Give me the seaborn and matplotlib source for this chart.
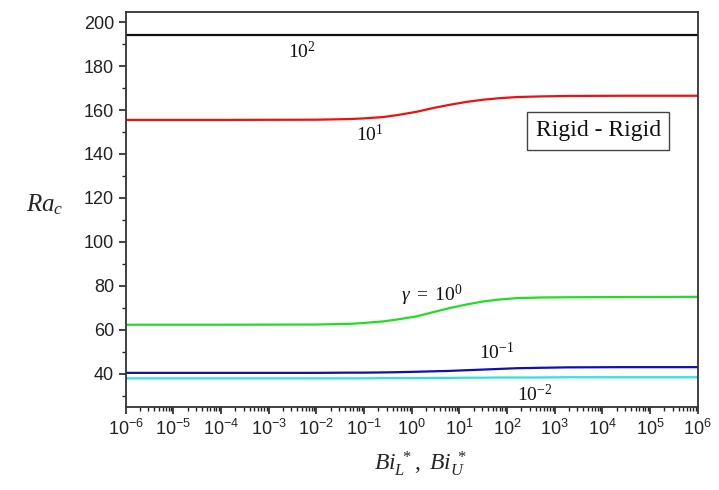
import numpy as np
import pandas as pd
import matplotlib
matplotlib.use("Agg")
import matplotlib.pyplot as plt
import seaborn as sns
from matplotlib.ticker import MultipleLocator, AutoMinorLocator, LogLocator, NullFormatter

# x values (Bi_L* = Bi_U*) shared by every curve
bi = [1e-6, 1e-4, 1e-2, 0.05, 0.1, 0.25, 0.5, 1.26, 2.8, 6.3, 14.1, 31.6, 70.8, 158, 501, 1780, 3.16e4, 1e6]

# Ra_c for each gamma
ra_g100 = [194.0] * 18
ra_g10 = [155.5, 155.5, 155.6, 155.9, 156.2, 156.8, 157.7, 159.2, 160.9, 162.4, 163.7, 164.7, 165.4, 165.9, 166.2, 166.4, 166.5, 166.5]
ra_g1 = [62.3, 62.3, 62.4, 62.7, 63.1, 63.8, 64.7, 66.1, 68.0, 69.9, 71.5, 72.9, 73.8, 74.4, 74.7, 74.8, 74.9, 75.0]
ra_g01 = [40.4, 40.4, 40.4, 40.5, 40.5, 40.6, 40.7, 40.9, 41.1, 41.3, 41.6, 41.9, 42.2, 42.5, 42.7, 42.9, 43.0, 43.0]
ra_g001 = [37.9, 37.9, 37.9, 37.9, 37.9, 38.0, 38.0, 38.0, 38.1, 38.1, 38.2, 38.2, 38.3, 38.3, 38.3, 38.4, 38.4, 38.4]

gammas = ["1e2", "1e1", "1e0", "1e-1", "1e-2"]
colors = ["#111111", "#ee1111", "#22dd22", "#1010b0", "#30e0e0"]

df = pd.concat([
    pd.DataFrame({"Bi": bi, "Ra": ra, "gamma": g})
    for g, ra in zip(gammas, [ra_g100, ra_g10, ra_g1, ra_g01, ra_g001])
])

sns.set_style("ticks")
plt.rcParams['font.family'] = ['Liberation Sans', 'DejaVu Sans']
plt.rcParams['mathtext.fontset'] = 'custom'
plt.rcParams['mathtext.rm'] = 'Liberation Serif'
plt.rcParams['mathtext.it'] = 'Liberation Serif:italic'
plt.rcParams['mathtext.bf'] = 'Liberation Serif:bold'

fig = plt.figure(figsize=(7.19, 4.9), dpi=100)
ax = fig.add_axes([0.1748, 0.170, 0.7956, 0.805])

sns.lineplot(data=df, x="Bi", y="Ra", hue="gamma", palette=colors, hue_order=gammas,
             linewidth=1.6, legend=False, ax=ax)

ax.set_xscale("log")
ax.set_xlim(1e-6, 1e6)
ax.set_ylim(25, 204.5)
ax.xaxis.set_major_locator(LogLocator(base=10, numticks=20))
ax.xaxis.set_minor_locator(LogLocator(base=10, subs=np.arange(2, 10), numticks=200))
ax.xaxis.set_minor_formatter(NullFormatter())
ax.yaxis.set_major_locator(MultipleLocator(20))
ax.yaxis.set_minor_locator(AutoMinorLocator(2))

ax.tick_params(which='major', direction='out', length=5, width=1.2, labelsize=13, colors='#222222')
ax.tick_params(which='minor', direction='out', length=3, width=1.0, colors='#222222')
ax.tick_params(top=False, right=False)
for s in ax.spines.values():
    s.set_visible(True)
    s.set_linewidth(1.3)
    s.set_color('#333333')

ax.set_ylabel(r'$Ra_c$', fontsize=18, rotation=0, va='center', ha='center')
ax.yaxis.set_label_coords(-0.141, 0.513)
ax.set_xlabel(r'$Bi_L^{\ *},\ Bi_U^{\ *}$', fontsize=17, va='center')
ax.xaxis.set_label_coords(0.515, -0.145)

# curve labels
lab_kw = dict(fontsize=14, ha='center', va='center', color='#111111')
ax.text(10**-2.30, 186.5, r'$\mathrm{10^{2}}$', **lab_kw)
ax.text(10**-0.88, 148.7, r'$\mathrm{10^{1}}$', **lab_kw)
ax.text(10**0.42, 75.5, r'$\gamma\ \mathrm{=\ 10^{0}}$', **lab_kw)
ax.text(10**1.79, 49.6, r'$\mathrm{10^{-1}}$', **lab_kw)
ax.text(10**2.59, 30.4, r'$\mathrm{10^{-2}}$', **lab_kw)

ax.text(10**3.91, 150.5, 'Rigid - Rigid', fontsize=17, family='Liberation Serif',
        ha='center', va='center', color='#111111',
        bbox=dict(boxstyle='square,pad=0.35', fc='white', ec='#444444', lw=1.0))

fig.savefig("out.png", dpi=100)
